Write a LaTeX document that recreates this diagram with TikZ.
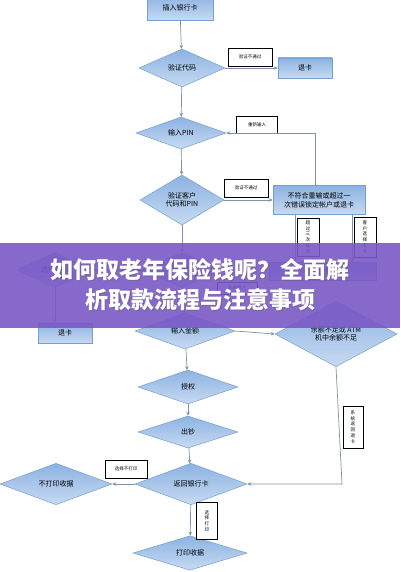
\documentclass[tikz,border=0pt]{standalone}
\usepackage{fontspec}
\setmainfont{Noto Sans CJK SC}
\usetikzlibrary{shapes.geometric,arrows.meta}
\definecolor{dtop}{RGB}{141,179,226}
\definecolor{dbot}{RGB}{199,218,242}
\definecolor{dline}{RGB}{118,158,206}
\definecolor{arr}{RGB}{128,146,172}
\definecolor{band}{RGB}{122,88,198}
\tikzset{
 dia/.style={diamond, draw=dline, line width=0.5pt, top color=dtop, bottom color=dbot, inner sep=0pt, font=\fontsize{7}{8.5}\selectfont, align=center},
 box/.style={rectangle, draw=dline, line width=0.5pt, top color=dtop, bottom color=dbot, inner sep=0pt, font=\fontsize{7}{9}\selectfont, align=center},
 lab/.style={rectangle, draw=black, line width=0.5pt, fill=white, inner sep=0pt, font=\fontsize{4.5}{5.2}\selectfont, align=center},
 vlab/.style={rectangle, draw=black, line width=0.5pt, fill=white, inner sep=0pt, font=\fontsize{4.6}{5.8}\selectfont, align=center},
 con/.style={draw=arr, line width=0.7pt, -{Stealth[length=4pt,width=3.5pt]}},
}
\begin{document}
\begin{tikzpicture}[x=1pt,y=-1pt]
\useasboundingbox (0,0) rectangle (400,572);
\fill[white] (0,0) rectangle (400,572);
% nodes
\node[box, minimum width=66pt, minimum height=24pt] (n1) at (180,8) {插入银行卡};
\node[dia, minimum width=86pt, minimum height=38pt] (d1) at (182,68) {验证代码};
\node[box, minimum width=54pt, minimum height=20pt] (r1) at (305,68) {退卡};
\node[lab, minimum width=44pt, minimum height=18pt] (l1) at (250,57) {验证不通过};
\node[dia, minimum width=90pt, minimum height=32pt] (d2) at (181,133) {输入PIN};
\node[dia, minimum width=84pt, minimum height=50pt] (d3) at (182,200) {验证客户\\代码和PIN};
\node[lab, minimum width=44pt, minimum height=18pt] (l2) at (246,188) {验证不通过};
\node[box, minimum width=92pt, minimum height=29pt] (r2) at (319,200) {不符合重输或超过一\\次错误锁定帐户或退卡};
\node[lab, minimum width=41pt, minimum height=17pt] (l3) at (257,125) {重新输入};
\node[vlab, minimum width=22pt, minimum height=38pt] (l4) at (308,237) {超\\过\\三\\次\\输\\错};
\node[vlab, minimum width=22pt, minimum height=40pt] (l5) at (365,237) {客\\户\\选\\择\\退\\卡};
% hidden area (under banner)
\node[dia, minimum width=80pt, minimum height=34pt] (dm) at (182,270) {选择取款};
\node[dia, minimum width=76pt, minimum height=34pt] (dl) at (55,270) {选择退卡};
\node[box, minimum width=107pt, minimum height=18pt] (rh) at (323,271) {吞卡};
\node[lab, minimum width=40pt, minimum height=12pt] (l9) at (237,288) {系统吞卡};
\node[box, minimum width=54pt, minimum height=20pt] (b2) at (65,333) {退卡};
% lower part
\node[dia, minimum width=100pt, minimum height=36pt] (d4) at (185,331) {输入金额};
\node[dia, minimum width=122pt, minimum height=58pt] (d5) at (336,334) {余额不足或 ATM\\机中余额不足};
\node[dia, minimum width=100pt, minimum height=34pt] (d6) at (188,387) {授权};
\node[dia, minimum width=100pt, minimum height=32pt] (d7) at (188,432) {出钞};
\node[dia, minimum width=112pt, minimum height=36pt] (d8) at (191,484) {返回银行卡};
\node[dia, minimum width=112pt, minimum height=34pt] (d9) at (56,484) {不打印收据};
\node[dia, minimum width=114pt, minimum height=32pt] (d10) at (190,553) {打印收据};
\node[vlab, minimum width=20pt, minimum height=42pt] (l6) at (353,427) {系\\统\\返\\回\\退\\卡};
\node[lab, minimum width=42pt, minimum height=18pt] (l7) at (126,469) {选择不打印};
\node[vlab, minimum width=21pt, minimum height=37pt] (l8) at (207,521) {选\\择\\打\\印};
% coordinates
\coordinate (c1) at (315,133);
\coordinate (c2) at (295,215);
\coordinate (c3) at (352,215);
\coordinate (c4) at (342,484);
% connectors
\draw[con] (n1) -- (d1);
\draw[con] (d1.east) -- (r1.west);
\draw[con] (d1) -- (d2);
\draw[con] (d2) -- (d3);
\draw[con] (d3.east) -- (r2.west);
\draw[con] (r2.north -| c1) -- (c1) -- (d2.east);
\draw[con] (c2) -- (rh.north -| c2);
\draw[con] (c3) -- (rh.north -| c3);
\draw[con] (d3) -- (dm);
\draw[con] (dm) -- (dl);
\draw[con] (dl) -- (b2.north -| dl);
\draw[con] (dm) -- (d4);
\draw[con] (d4.east) -- (d5.west);
\draw[con] (d4) -- (d6);
\draw[con] (d6) -- (d7);
\draw[con] (d7) -- (d8);
\draw[con] (d5.south) -- (c4) -- (d8.east);
\draw[con] (d8.west) -- (d9.east);
\draw[con] (d8) -- (d10);
% banner
\fill[band, opacity=0.9] (0,243) rectangle (400,328);
\node[font=\fontsize{23}{30}\selectfont\bfseries, text=black!60, opacity=0.5, align=center] (tts) at (201,286) {如何取老年保险钱呢？全面解\\析取款流程与注意事项};
\node[font=\fontsize{23}{30}\selectfont\bfseries, text=white, align=center] (tt) at (200,285) {如何取老年保险钱呢？全面解\\析取款流程与注意事项};
\end{tikzpicture}
\end{document}
